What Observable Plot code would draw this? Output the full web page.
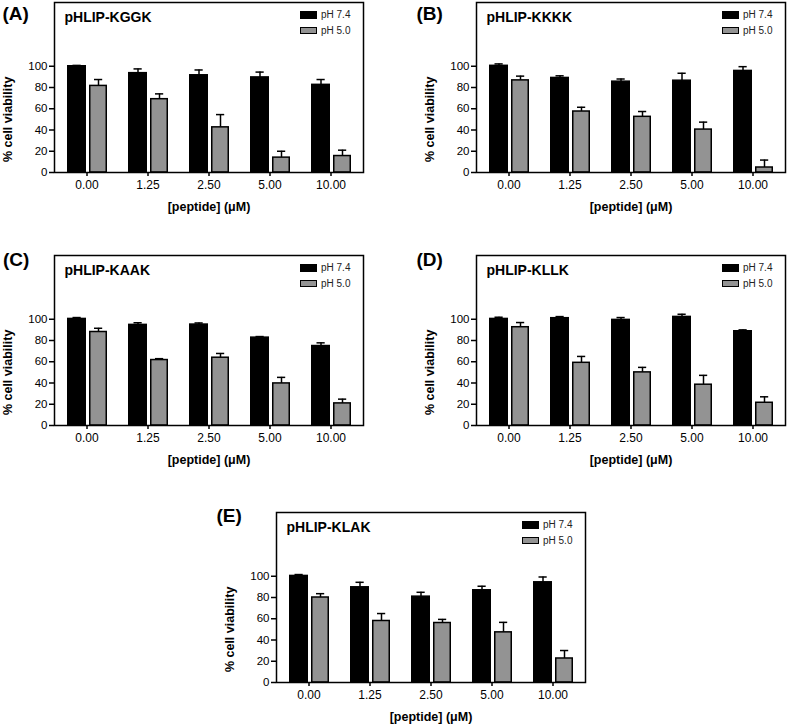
<!DOCTYPE html>
<html><head><meta charset="utf-8">
<script src="https://cdn.jsdelivr.net/npm/d3@7"></script>
<script src="https://cdn.jsdelivr.net/npm/@observablehq/plot@0.6"></script>
<style>
body{margin:0;background:#fff;font-family:"Liberation Sans",Arial,Helvetica,sans-serif;}
#wrap{position:relative;width:787px;height:726px;overflow:hidden;background:#fff;}
.panel{position:absolute;}
.panel svg{display:block;overflow:visible;}
.letter{position:absolute;font-weight:bold;font-size:19px;line-height:19px;color:#000;white-space:nowrap;}
.sw{position:absolute;box-sizing:border-box;border:1.3px solid #000;width:17px;height:7.5px;}
.lt{position:absolute;font-size:10px;line-height:10px;color:#222;white-space:nowrap;}
</style>
</head><body><div id="wrap"></div>
<script>
// ---- data ----
const concentrations = ["0.00", "1.25", "2.50", "5.00", "10.00"];
const yTicks = [0, 20, 40, 60, 80, 100];
const seriesNames = ["pH 7.4", "pH 5.0"];
const panelLetters = ["(A)", "(B)", "(C)", "(D)", "(E)"];
const panelTitles = ["pHLIP-KGGK", "pHLIP-KKKK", "pHLIP-KAAK", "pHLIP-KLLK", "pHLIP-KLAK"];
const xAxisLabel = "[peptide] (μM)";
const yAxisLabel = "% cell viability";

const kggk_pH74 = [100, 93.5, 91.5, 89.5, 82.5];
const kggk_pH74_err = [0.8, 4, 5, 5, 5];
const kggk_pH50 = [81.5, 69, 42.5, 14, 15.5];
const kggk_pH50_err = [6, 5, 12, 6, 5.5];

const kkkk_pH74 = [100.4, 89, 85.5, 86.4, 95.6];
const kkkk_pH74_err = [1.8, 2, 2.5, 7, 4];
const kkkk_pH50 = [86.7, 57.4, 52.4, 40.4, 4.7];
const kkkk_pH50_err = [4, 4, 5, 7, 7];

const kaak_pH74 = [100.3, 94.7, 95, 82.7, 74.8];
const kaak_pH74_err = [1.3, 2, 1.5, 1, 3];
const kaak_pH50 = [88, 61.6, 63.8, 39.6, 20.8];
const kaak_pH50_err = [3.5, 1.3, 4, 5.7, 4];

const kllk_pH74 = [100.3, 101, 99.4, 102.2, 88.7];
const kllk_pH74_err = [1.6, 1.5, 2.2, 2.5, 1.3];
const kllk_pH50 = [92.5, 59, 50, 38.4, 21.4];
const kllk_pH50_err = [4.4, 6, 4.7, 8.8, 5.6];

const klak_pH74 = [100.3, 89.6, 80.8, 86.8, 94.3];
const klak_pH74_err = [1.3, 4.7, 4.1, 3.8, 5];
const klak_pH50 = [80, 57.9, 56, 47.2, 22.6];
const klak_pH50_err = [3.6, 7, 3.4, 9.4, 7.5];

// ---- layout ----
const FONT = '"Liberation Sans", Arial, Helvetica, sans-serif';
const W = 365, H = 218, ML = 54, MT = 2, MB = 46, MR = 2;
const BLACK = "#000", GRAY = "#939393";
const panelPos = [[0, 0], [422, 0], [0, 253], [422, 253], [222, 510]];
const letterPos = [[2.5, 4], [416.5, 4], [3, 250], [416.5, 250], [216.5, 506]];

function rows(vals, errs) {
  return concentrations.map((c, i) => ({c, v: vals[i], hi: vals[i] + errs[i]}));
}

function panelPlot(title, v74, e74, v50, e50) {
  const d74 = rows(v74, e74), d50 = rows(v50, e50);
  const yMid = (yTicks[0] + yTicks[yTicks.length - 1]) / 2;
  return Plot.plot({
    width: W, height: H,
    marginLeft: ML, marginTop: MT, marginBottom: MB, marginRight: MR,
    style: {fontFamily: FONT, background: "transparent", color: "#000", overflow: "visible"},
    x: {type: "band", domain: concentrations, padding: 0},
    y: {domain: [0, 160]},
    marks: [
      Plot.axisX({tickSize: 4, tickPadding: 4, fontSize: 12, label: null, strokeWidth: 1.5}),
      Plot.axisY({ticks: yTicks, tickSize: 5, tickPadding: 2, fontSize: 11.5, label: null, strokeWidth: 1.5}),
      Plot.ruleX(d74, {x: "c", y1: "v", y2: "hi", dx: -10, stroke: BLACK, strokeWidth: 1.5}),
      Plot.tickY(d74, {x: "c", y: "hi", insetLeft: 16.5, insetRight: 36.3, stroke: BLACK, strokeWidth: 1.5}),
      Plot.ruleX(d50, {x: "c", y1: "v", y2: "hi", dx: 11.5, stroke: BLACK, strokeWidth: 1.5}),
      Plot.tickY(d50, {x: "c", y: "hi", insetLeft: 38, insetRight: 14.8, stroke: BLACK, strokeWidth: 1.5}),
      Plot.barY(d74, {x: "c", y: "v", fill: BLACK, stroke: BLACK, strokeWidth: 1.5, insetLeft: 11.75, insetRight: 31.75}),
      Plot.barY(d50, {x: "c", y: "v", fill: GRAY, stroke: BLACK, strokeWidth: 1.5, insetLeft: 33.75, insetRight: 10.75}),
      Plot.frame({stroke: BLACK, strokeWidth: 1.5}),
      Plot.text([title], {frameAnchor: "top-left", dx: 10, dy: 9.7, lineAnchor: "top", textAnchor: "start", fontWeight: "bold", fontSize: 14, fill: BLACK}),
      Plot.text([yMid], {y: d => d, frameAnchor: "left", dx: -46.5, rotate: -90, textAnchor: "middle", lineAnchor: "middle", fontWeight: "bold", fontSize: 12.5, fill: BLACK, text: () => yAxisLabel}),
      Plot.text([xAxisLabel], {frameAnchor: "bottom", dy: 34.3, textAnchor: "middle", lineAnchor: "middle", fontWeight: "bold", fontSize: 12.5, fill: BLACK})
    ]
  });
}

const panelData = [
  [kggk_pH74, kggk_pH74_err, kggk_pH50, kggk_pH50_err],
  [kkkk_pH74, kkkk_pH74_err, kkkk_pH50, kkkk_pH50_err],
  [kaak_pH74, kaak_pH74_err, kaak_pH50, kaak_pH50_err],
  [kllk_pH74, kllk_pH74_err, kllk_pH50, kllk_pH50_err],
  [klak_pH74, klak_pH74_err, klak_pH50, klak_pH50_err]
];

const wrap = document.getElementById("wrap");
panelData.forEach((pd, i) => {
  const div = document.createElement("div");
  div.className = "panel";
  div.style.left = panelPos[i][0] + "px";
  div.style.top = panelPos[i][1] + "px";
  div.appendChild(panelPlot(panelTitles[i], ...pd));
  // legend
  const fills = [BLACK, GRAY];
  seriesNames.forEach((name, k) => {
    const sw = document.createElement("div");
    sw.className = "sw";
    sw.style.left = "299.5px";
    sw.style.top = (MT + 9 + k * 15.5) + "px";
    sw.style.background = fills[k];
    div.appendChild(sw);
    const t = document.createElement("div");
    t.className = "lt";
    t.style.left = "321px";
    t.style.top = (MT + 8 + k * 15.5) + "px";
    t.textContent = name;
    div.appendChild(t);
  });
  wrap.appendChild(div);
  const L = document.createElement("div");
  L.className = "letter";
  L.style.left = letterPos[i][0] + "px";
  L.style.top = letterPos[i][1] + "px";
  L.textContent = panelLetters[i];
  wrap.appendChild(L);
});
</script>
</body></html>
